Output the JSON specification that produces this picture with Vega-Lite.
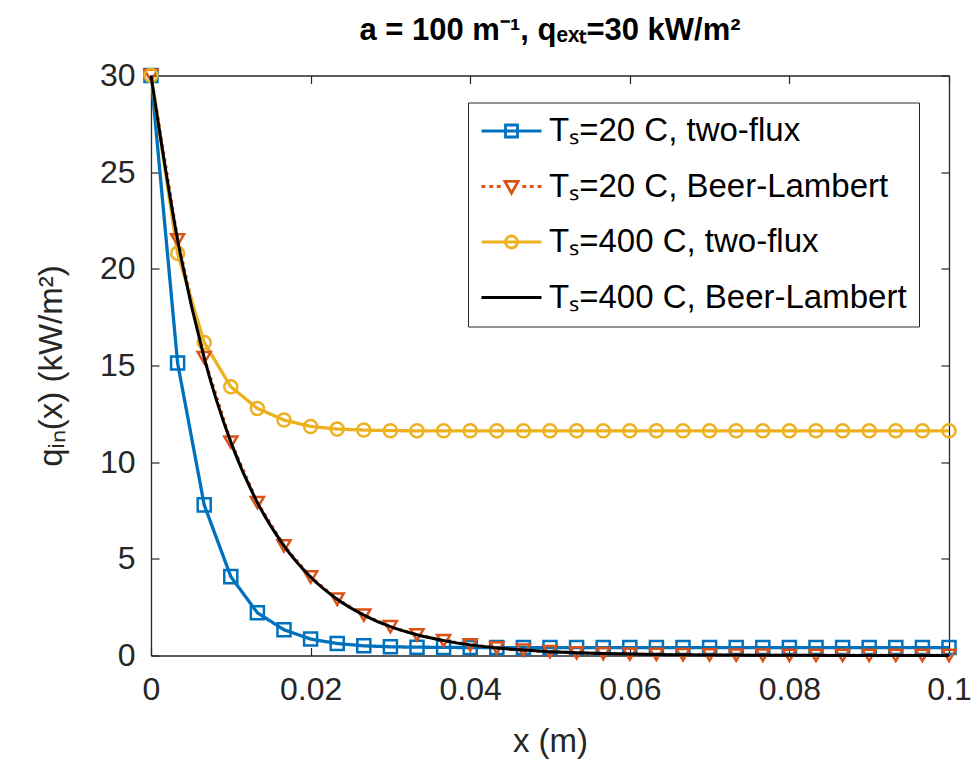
{
  "$schema": "https://vega.github.io/schema/vega-lite/v6.json",
  "width": 798,
  "height": 580,
  "autosize": {"type": "none"},
  "padding": {"left": 151, "top": 75.5, "right": 27, "bottom": 105.5},
  "background": "white",
  "config": {
    "font": "Liberation Sans",
    "view": {"stroke": null},
    "axis": {"grid": false, "domainColor": "#262626", "domainWidth": 1.3, "tickColor": "#262626", "tickWidth": 1.2, "labelColor": "#262626", "titleColor": "#262626", "labelFont": "Liberation Sans", "titleFont": "Liberation Sans", "labelFontSize": 32, "titleFontSize": 33, "titleFontWeight": "normal"}
  },
  "title": {"text": "a = 100 m⁻¹, qₑₓₜ=30 kW/m²", "fontSize": 31, "fontWeight": "bold", "font": "Liberation Sans", "color": "black", "anchor": "middle", "frame": "group", "offset": 13},
  "datasets": {
    "pts": [
      {"x": 0, "q": 30, "s": "A"}, {"x": 0.003333, "q": 15.13, "s": "A"}, {"x": 0.006667, "q": 7.79, "s": "A"}, {"x": 0.01, "q": 4.08, "s": "A"}, {"x": 0.013333, "q": 2.21, "s": "A"}, {"x": 0.016667, "q": 1.33, "s": "A"}, {"x": 0.02, "q": 0.85, "s": "A"}, {"x": 0.023333, "q": 0.62, "s": "A"}, {"x": 0.026667, "q": 0.5, "s": "A"}, {"x": 0.03, "q": 0.45, "s": "A"}, {"x": 0.033333, "q": 0.43, "s": "A"}, {"x": 0.036667, "q": 0.42, "s": "A"}, {"x": 0.04, "q": 0.41, "s": "A"}, {"x": 0.043333, "q": 0.41, "s": "A"}, {"x": 0.046667, "q": 0.41, "s": "A"}, {"x": 0.05, "q": 0.41, "s": "A"}, {"x": 0.053333, "q": 0.41, "s": "A"}, {"x": 0.056667, "q": 0.41, "s": "A"}, {"x": 0.06, "q": 0.41, "s": "A"}, {"x": 0.063333, "q": 0.41, "s": "A"}, {"x": 0.066667, "q": 0.41, "s": "A"}, {"x": 0.07, "q": 0.41, "s": "A"}, {"x": 0.073333, "q": 0.41, "s": "A"}, {"x": 0.076667, "q": 0.41, "s": "A"}, {"x": 0.08, "q": 0.41, "s": "A"}, {"x": 0.083333, "q": 0.41, "s": "A"}, {"x": 0.086667, "q": 0.41, "s": "A"}, {"x": 0.09, "q": 0.41, "s": "A"}, {"x": 0.093333, "q": 0.41, "s": "A"}, {"x": 0.096667, "q": 0.41, "s": "A"}, {"x": 0.1, "q": 0.41, "s": "A"},
      {"x": 0, "q": 30, "s": "B"}, {"x": 0.003333, "q": 21.5, "s": "B"}, {"x": 0.006667, "q": 15.4, "s": "B"}, {"x": 0.01, "q": 11.04, "s": "B"}, {"x": 0.013333, "q": 7.91, "s": "B"}, {"x": 0.016667, "q": 5.67, "s": "B"}, {"x": 0.02, "q": 4.06, "s": "B"}, {"x": 0.023333, "q": 2.91, "s": "B"}, {"x": 0.026667, "q": 2.09, "s": "B"}, {"x": 0.03, "q": 1.49, "s": "B"}, {"x": 0.033333, "q": 1.07, "s": "B"}, {"x": 0.036667, "q": 0.77, "s": "B"}, {"x": 0.04, "q": 0.55, "s": "B"}, {"x": 0.043333, "q": 0.39, "s": "B"}, {"x": 0.046667, "q": 0.28, "s": "B"}, {"x": 0.05, "q": 0.2, "s": "B"}, {"x": 0.053333, "q": 0.14, "s": "B"}, {"x": 0.056667, "q": 0.1, "s": "B"}, {"x": 0.06, "q": 0.074, "s": "B"}, {"x": 0.063333, "q": 0.053, "s": "B"}, {"x": 0.066667, "q": 0.038, "s": "B"}, {"x": 0.07, "q": 0.027, "s": "B"}, {"x": 0.073333, "q": 0.02, "s": "B"}, {"x": 0.076667, "q": 0.014, "s": "B"}, {"x": 0.08, "q": 0.01, "s": "B"}, {"x": 0.083333, "q": 0.007, "s": "B"}, {"x": 0.086667, "q": 0.005, "s": "B"}, {"x": 0.09, "q": 0.004, "s": "B"}, {"x": 0.093333, "q": 0.003, "s": "B"}, {"x": 0.096667, "q": 0.002, "s": "B"}, {"x": 0.1, "q": 0.001, "s": "B"},
      {"x": 0, "q": 30, "s": "C"}, {"x": 0.003333, "q": 20.8, "s": "C"}, {"x": 0.006667, "q": 16.19, "s": "C"}, {"x": 0.01, "q": 13.9, "s": "C"}, {"x": 0.013333, "q": 12.78, "s": "C"}, {"x": 0.016667, "q": 12.18, "s": "C"}, {"x": 0.02, "q": 11.85, "s": "C"}, {"x": 0.023333, "q": 11.71, "s": "C"}, {"x": 0.026667, "q": 11.66, "s": "C"}, {"x": 0.03, "q": 11.63, "s": "C"}, {"x": 0.033333, "q": 11.62, "s": "C"}, {"x": 0.036667, "q": 11.62, "s": "C"}, {"x": 0.04, "q": 11.62, "s": "C"}, {"x": 0.043333, "q": 11.62, "s": "C"}, {"x": 0.046667, "q": 11.62, "s": "C"}, {"x": 0.05, "q": 11.62, "s": "C"}, {"x": 0.053333, "q": 11.62, "s": "C"}, {"x": 0.056667, "q": 11.62, "s": "C"}, {"x": 0.06, "q": 11.62, "s": "C"}, {"x": 0.063333, "q": 11.62, "s": "C"}, {"x": 0.066667, "q": 11.62, "s": "C"}, {"x": 0.07, "q": 11.62, "s": "C"}, {"x": 0.073333, "q": 11.62, "s": "C"}, {"x": 0.076667, "q": 11.62, "s": "C"}, {"x": 0.08, "q": 11.62, "s": "C"}, {"x": 0.083333, "q": 11.62, "s": "C"}, {"x": 0.086667, "q": 11.62, "s": "C"}, {"x": 0.09, "q": 11.62, "s": "C"}, {"x": 0.093333, "q": 11.62, "s": "C"}, {"x": 0.096667, "q": 11.62, "s": "C"}, {"x": 0.1, "q": 11.62, "s": "C"},
      {"x": 0, "q": 30, "s": "D"}, {"x": 0.003333, "q": 21.5, "s": "D"}, {"x": 0.006667, "q": 15.4, "s": "D"}, {"x": 0.01, "q": 11.04, "s": "D"}, {"x": 0.013333, "q": 7.91, "s": "D"}, {"x": 0.016667, "q": 5.67, "s": "D"}, {"x": 0.02, "q": 4.06, "s": "D"}, {"x": 0.023333, "q": 2.91, "s": "D"}, {"x": 0.026667, "q": 2.09, "s": "D"}, {"x": 0.03, "q": 1.49, "s": "D"}, {"x": 0.033333, "q": 1.07, "s": "D"}, {"x": 0.036667, "q": 0.77, "s": "D"}, {"x": 0.04, "q": 0.55, "s": "D"}, {"x": 0.043333, "q": 0.39, "s": "D"}, {"x": 0.046667, "q": 0.28, "s": "D"}, {"x": 0.05, "q": 0.2, "s": "D"}, {"x": 0.053333, "q": 0.14, "s": "D"}, {"x": 0.056667, "q": 0.1, "s": "D"}, {"x": 0.06, "q": 0.074, "s": "D"}, {"x": 0.063333, "q": 0.053, "s": "D"}, {"x": 0.066667, "q": 0.038, "s": "D"}, {"x": 0.07, "q": 0.027, "s": "D"}, {"x": 0.073333, "q": 0.02, "s": "D"}, {"x": 0.076667, "q": 0.014, "s": "D"}, {"x": 0.08, "q": 0.01, "s": "D"}, {"x": 0.083333, "q": 0.007, "s": "D"}, {"x": 0.086667, "q": 0.005, "s": "D"}, {"x": 0.09, "q": 0.004, "s": "D"}, {"x": 0.093333, "q": 0.003, "s": "D"}, {"x": 0.096667, "q": 0.002, "s": "D"}, {"x": 0.1, "q": 0.001, "s": "D"}
    ]
  },
  "data": {"name": "pts"},
  "resolve": {"axis": {"x": "independent", "y": "independent"}},
  "layer": [
    {
      "transform": [{"filter": "datum.s != 'D'"}],
      "mark": {"type": "line", "strokeWidth": 3.3, "clip": true},
      "encoding": {
        "x": {"field": "x", "type": "quantitative", "scale": {"domain": [0, 0.1], "nice": false, "zero": false},
          "axis": {"orient": "bottom", "title": "x (m)", "values": [0, 0.02, 0.04, 0.06, 0.08, 0.1], "format": "~g", "tickSize": -8, "labelPadding": 27, "labelFlush": false, "labelOverlap": false, "titleX": 399, "titleY": 95.5, "titleBaseline": "alphabetic", "titleAnchor": "middle"}},
        "y": {"field": "q", "type": "quantitative", "scale": {"domain": [0, 30], "nice": false},
          "axis": {"orient": "left", "title": "qᵢₙ(x) (kW/m²)", "values": [0, 5, 10, 15, 20, 25, 30], "tickSize": -8, "labelPadding": 24, "labelFlush": false, "labelOverlap": false, "titleX": -89.3, "titleY": 290, "titleAngle": 270, "titleBaseline": "alphabetic", "titleAlign": "center"}},
        "color": {"field": "s", "type": "nominal",
          "scale": {"domain": ["A", "B", "C", "D"], "range": ["#0072BD", "#D95319", "#EDB120", "#000000"]},
          "legend": {
            "orient": "none", "legendX": 317, "legendY": 27, "title": null,
            "labelExpr": "datum.value == 'A' ? 'Tₛ=20 C, two-flux' : datum.value == 'B' ? 'Tₛ=20 C, Beer-Lambert' : datum.value == 'C' ? 'Tₛ=400 C, two-flux' : 'Tₛ=400 C, Beer-Lambert'",
            "labelFont": "Liberation Sans", "labelFontSize": 33, "labelColor": "black", "labelLimit": 700, "labelOffset": 36,
            "symbolSize": 900, "symbolStrokeWidth": 2.5, "rowPadding": 21.5, "padding": 12,
            "strokeColor": "#262626", "fillColor": "white",
            "encode": {"symbols": {"update": {
              "shape": {"signal": "datum.value == 'A' ? 'M-1,0H3M0.6,-0.4H1.4V0.4H0.6Z' : datum.value == 'B' ? 'M-1,0H-0.74M-0.48,0H-0.22M0.02,0H0.28M1.72,0H1.98M2.22,0H2.48M2.74,0H3M0.56,-0.34H1.44L1,0.44Z' : datum.value == 'C' ? 'M-1,0H3M1.4,0A0.4,0.4 0 1 1 0.6,0A0.4,0.4 0 1 1 1.4,0Z' : 'M-1,0H3'"},
              "fill": {"value": "transparent"},
              "strokeWidth": {"value": 2.8},
              "size": {"value": 900}
            }}}
          }},
        "strokeDash": {"condition": {"test": "datum.s == 'B'", "value": [3, 4]}, "value": [1, 0]}
      }
    },
    {
      "transform": [{"filter": "datum.s != 'D'"}],
      "mark": {"type": "point", "filled": false, "strokeWidth": 2.5, "size": 170, "opacity": 1},
      "encoding": {
        "x": {"field": "x", "type": "quantitative",
          "axis": {"orient": "top", "title": null, "labels": false, "values": [0, 0.02, 0.04, 0.06, 0.08, 0.1], "tickSize": -8}},
        "y": {"field": "q", "type": "quantitative",
          "axis": {"orient": "right", "title": null, "labels": false, "values": [0, 5, 10, 15, 20, 25, 30], "tickSize": -8}},
        "color": {"field": "s", "type": "nominal"},
        "shape": {"field": "s", "type": "nominal", "scale": {"domain": ["A", "B", "C"], "range": ["square", "triangle-down", "circle"]}, "legend": null}
      }
    },
    {
      "transform": [{"filter": "datum.s == 'D'"}],
      "mark": {"type": "line", "strokeWidth": 3, "interpolate": "monotone"},
      "encoding": {
        "x": {"field": "x", "type": "quantitative", "axis": null},
        "y": {"field": "q", "type": "quantitative", "axis": null},
        "color": {"field": "s", "type": "nominal"}
      }
    }
  ]
}
